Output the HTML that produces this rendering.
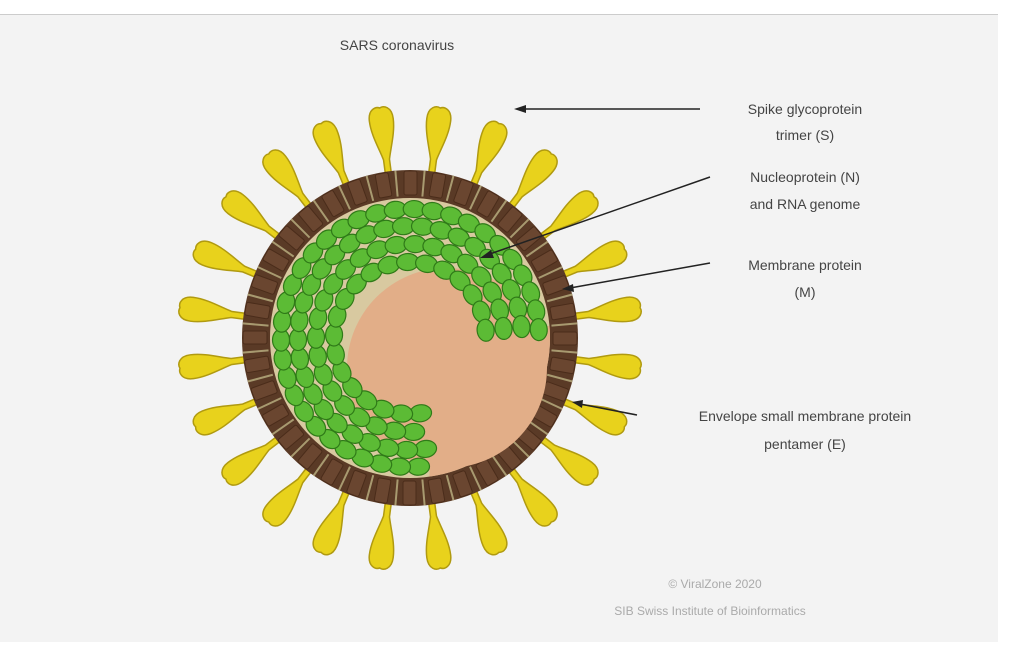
<!DOCTYPE html>
<html><head><meta charset="utf-8"><style>
html,body{margin:0;padding:0;background:#fff;}
svg{display:block}
text{font-family:"Liberation Sans",sans-serif;fill:#444;}
</style></head><body>
<svg id="s" width="1010" height="650" xmlns="http://www.w3.org/2000/svg">
<rect x="0" y="14" width="998" height="628" fill="#f3f3f3"/>
<line x1="0" y1="14.5" x2="998" y2="14.5" stroke="#ccc"/>
<g id="spk"></g>
<circle cx="410" cy="338" r="168" fill="#5a3a26"/>
<g id="mem"></g>
<circle cx="410" cy="338" r="140" fill="#d8c9a0"/>
<circle cx="447" cy="368" r="100" fill="#e2ae88"/>
<path id="wedge" fill="#e2ae88"/>
<g id="grn"></g>
<text x="397" y="50" font-size="14" text-anchor="middle" fill="#555">SARS coronavirus</text>
<g stroke="#222" stroke-width="1.5" fill="none">
<line x1="700" y1="109" x2="522" y2="109"/>
<line x1="710" y1="177" x2="487" y2="255"/>
<line x1="710" y1="263" x2="570" y2="288"/>
<line x1="637" y1="415" x2="580" y2="404"/>
</g>
<g fill="#222">
<polygon points="514,109 526,105 526,113"/>
<polygon points="480,258 491,250 494,258"/>
<polygon points="562,289 573,284 574,292"/>
<polygon points="572,402 583,400 582,408"/>
</g>
<g font-size="14" text-anchor="middle">
<text x="805" y="114">Spike glycoprotein</text>
<text x="805" y="140">trimer (S)</text>
<text x="805" y="182">Nucleoprotein (N)</text>
<text x="805" y="209">and RNA genome</text>
<text x="805" y="270">Membrane protein</text>
<text x="805" y="297">(M)</text>
<text x="805" y="421">Envelope small membrane protein</text>
<text x="805" y="449">pentamer (E)</text>
</g>
<g font-size="12" text-anchor="middle">
<text x="715" y="588" style="fill:#aaa">© ViralZone 2020</text>
<text x="710" y="615" style="fill:#aaa">SIB Swiss Institute of Bioinformatics</text>
</g>
</svg>
<script>
const NS="http://www.w3.org/2000/svg",cx=410,cy=338;
function el(t,a,p){const e=document.createElementNS(NS,t);for(const k in a)e.setAttribute(k,a[k]);document.getElementById(p).appendChild(e);return e;}
for(let i=0;i<24;i++){const a=7.5+i*15;
 const g=el('g',{transform:`translate(${cx},${cy}) rotate(${a})`},'spk');
 const p=document.createElementNS(NS,'path');
 p.setAttribute('d','M160,-3 L180,-3 C192,-6 206,-12 220,-12 C232,-12 234,-4 232,0 C234,4 232,12 220,12 C206,12 192,6 180,3 L160,3 Z');
 p.setAttribute('fill','#e8d21c');p.setAttribute('stroke','#b09a10');p.setAttribute('stroke-width','1.5');g.appendChild(p);
}
for(let i=0;i<36;i++){const a=i*10;
 el('rect',{x:143,y:-6,width:24,height:13,rx:2,fill:'#6a4630',stroke:'#4a2c1a',transform:`translate(${cx},${cy}) rotate(${a})`},'mem');
 el('line',{x1:142,y1:0,x2:168,y2:0,stroke:'#a89a70','stroke-width':2,transform:`translate(${cx},${cy}) rotate(${a+5})`},'mem');
}
(function(){const r=140,a1=-5*Math.PI/180,a2=82*Math.PI/180;
document.getElementById('wedge').setAttribute('d',`M${cx+20},${cy+15} L${cx+r*Math.cos(a1)},${cy+r*Math.sin(a1)} A${r},${r} 0 0 1 ${cx+r*Math.cos(a2)},${cy+r*Math.sin(a2)} Z`);})();
const rows=[[76,0],[94,1],[112,0],[129,1]];
rows.forEach(([r,o])=>{const step=19/r*180/Math.PI;
 for(let a=82+o*step/2;a<358;a+=step){const t=a*Math.PI/180;const x=cx+r*Math.cos(t),y=cy+r*Math.sin(t);
  el('ellipse',{cx:x,cy:y,rx:11,ry:8.5,fill:'#5cbb35',stroke:'#2f7a18','stroke-width':1.2,transform:`rotate(${a+90} ${x} ${y})`},'grn');}
});
</script>
</body></html>
